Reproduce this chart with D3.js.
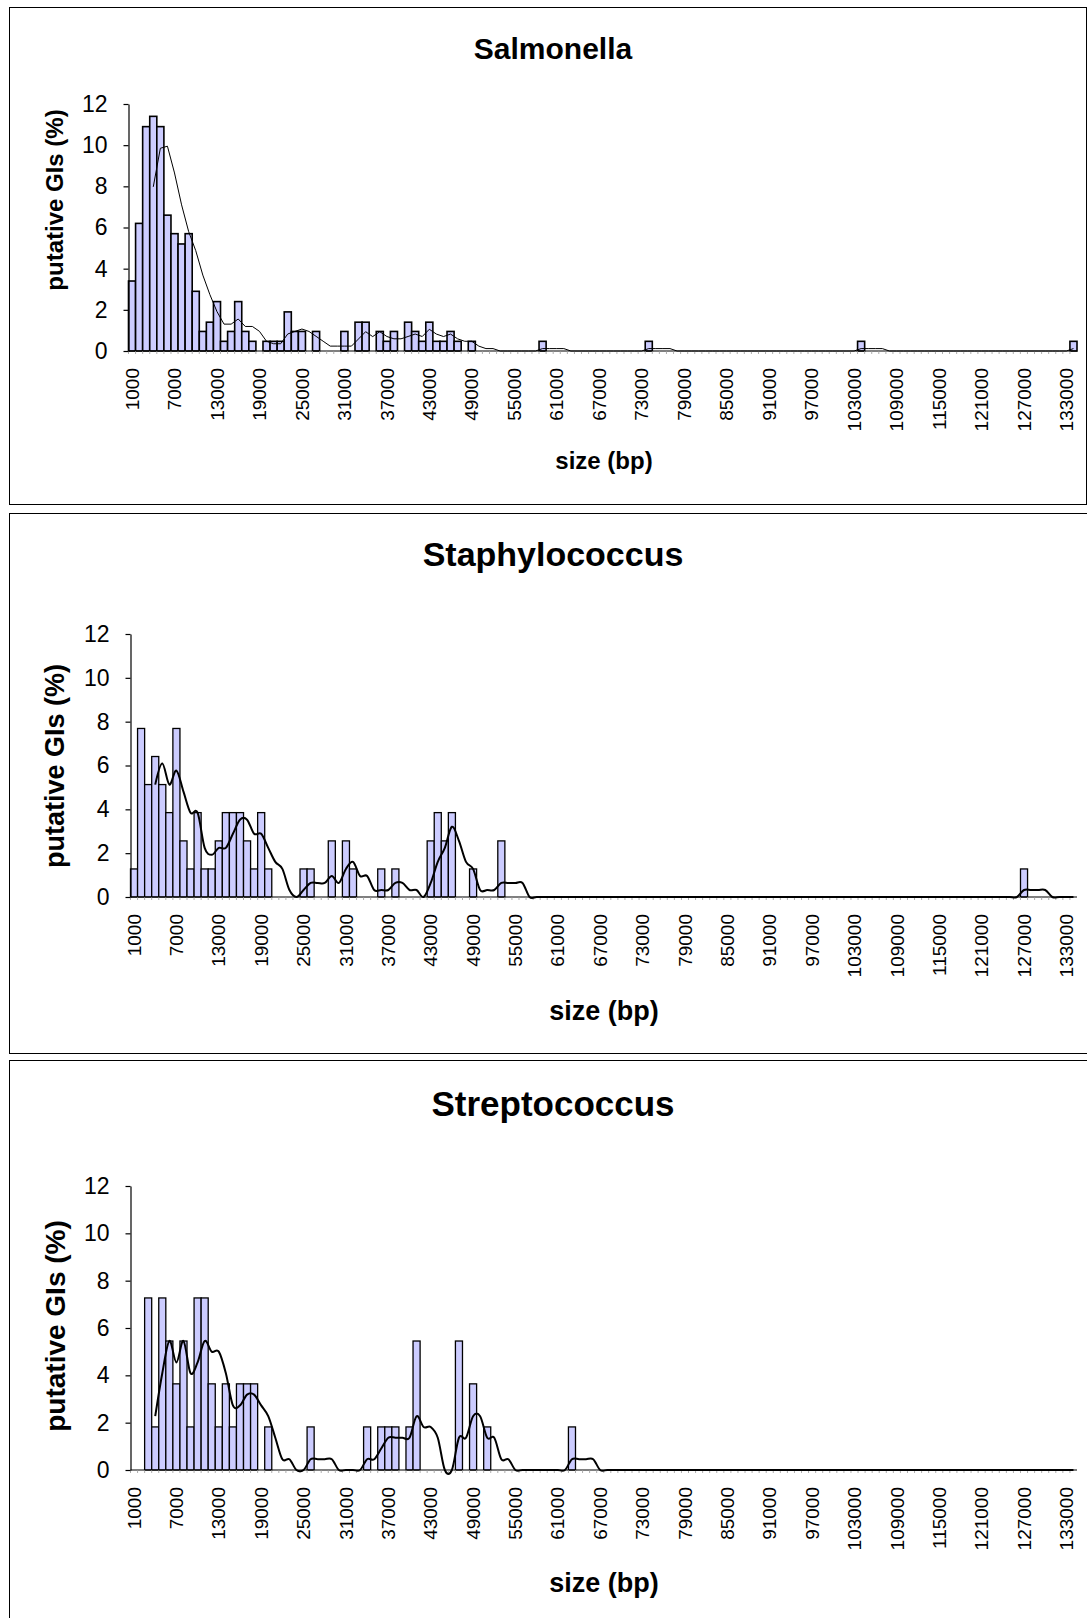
<!DOCTYPE html>
<html><head><meta charset="utf-8">
<script src="https://cdn.jsdelivr.net/npm/d3@7"></script>
<style>html,body{margin:0;padding:0;background:#fff;}</style>
</head><body>
<svg id="chart" width="1087" height="1618"></svg>
<script>
// ---- data (bin start size in bp, % of putative GIs); empty bins are 0 ----
const binSizes = d3.range(1000, 134001, 1000); // histogram categories 1000 .. 134000 bp
const tickLabels = ["1000","7000","13000","19000","25000","31000","37000","43000","49000","55000","61000","67000","73000","79000","85000","91000","97000","103000","109000","115000","121000","127000","133000"];
const yTicks = [0, 2, 4, 6, 8, 10, 12];

const salmonella = [[1000,3.4],[2000,6.2],[3000,10.9],[4000,11.4],[5000,10.9],[6000,6.6],[7000,5.7],[8000,5.2],[9000,5.7],[10000,2.9],[11000,0.95],[12000,1.4],[13000,2.4],[14000,0.47],[15000,0.95],[16000,2.4],[17000,0.95],[18000,0.47],[20000,0.47],[21000,0.47],[22000,0.47],[23000,1.9],[24000,0.95],[25000,0.95],[27000,0.95],[31000,0.95],[33000,1.4],[34000,1.4],[36000,0.95],[37000,0.47],[38000,0.95],[40000,1.4],[41000,0.95],[42000,0.47],[43000,1.4],[44000,0.47],[45000,0.47],[46000,0.95],[47000,0.47],[49000,0.47],[59000,0.47],[74000,0.47],[104000,0.47],[134000,0.47]];
const staphylococcus = [[1000,1.28],[2000,7.69],[3000,5.13],[4000,6.41],[5000,5.13],[6000,3.85],[7000,7.69],[8000,2.56],[9000,1.28],[10000,3.85],[11000,1.28],[12000,1.28],[13000,2.56],[14000,3.85],[15000,3.85],[16000,3.85],[17000,2.56],[18000,1.28],[19000,3.85],[20000,1.28],[25000,1.28],[26000,1.28],[29000,2.56],[31000,2.56],[32000,1.28],[36000,1.28],[38000,1.28],[43000,2.56],[44000,3.85],[45000,2.56],[46000,3.85],[49000,1.28],[53000,2.56],[127000,1.28]];
const streptococcus = [[3000,7.27],[4000,1.82],[5000,7.27],[6000,5.45],[7000,3.64],[8000,5.45],[9000,1.82],[10000,7.27],[11000,7.27],[12000,3.64],[13000,1.82],[14000,3.64],[15000,1.82],[16000,3.64],[17000,3.64],[18000,3.64],[20000,1.82],[26000,1.82],[34000,1.82],[36000,1.82],[37000,1.82],[38000,1.82],[40000,1.82],[41000,5.45],[47000,5.45],[49000,3.64],[51000,1.82],[63000,1.82]];
const titles = ["Salmonella", "Staphylococcus", "Streptococcus"];
const movingAveragePeriod = 4; // Excel moving-average trendline

// ---- layout ----
const panels = [
  {title: titles[0], data: salmonella, box: {x: 9.5, y: 7.5, w: 1077, h: 497}, left: 128.5, right: 1077, top: 104, bottom: 351,
   titleY: 59, titleFs: 30, xTitleY: 469, axFs: 24, yTitleY: 200, ytFs: 24, smooth: false, lw: 1, bw: 1.6},
  {title: titles[1], data: staphylococcus, box: {x: 9.5, y: 513.5, w: 1090, h: 540}, left: 130.5, right: 1077, top: 634, bottom: 897,
   titleY: 566, titleFs: 34, xTitleY: 1020, axFs: 27, yTitleY: 766, ytFs: 27, smooth: true, lw: 2, bw: 1.3},
  {title: titles[2], data: streptococcus, box: {x: 9.5, y: 1060.5, w: 1090, h: 570}, left: 130.5, right: 1077, top: 1186, bottom: 1470,
   titleY: 1116, titleFs: 35, xTitleY: 1592, axFs: 27, yTitleY: 1326, ytFs: 28, smooth: true, lw: 2, bw: 1.3}
];

const svg = d3.select("#chart");
const FONT = "'Liberation Sans', Arial, sans-serif";

panels.forEach(p => {
  const g = svg.append("g");
  g.append("rect").attr("x", p.box.x).attr("y", p.box.y).attr("width", p.box.w).attr("height", p.box.h)
    .attr("fill", "#fff").attr("stroke", "#000").attr("stroke-width", 1);

  const lookup = new Map(p.data);
  const values = binSizes.map(s => ({size: s, v: lookup.get(s) || 0}));

  const x = d3.scaleBand().domain(binSizes).range([p.left, p.right]).paddingInner(0).paddingOuter(0);
  const y = d3.scaleLinear().domain([0, 12]).range([p.bottom, p.top]);

  // bars
  g.append("g").selectAll("rect").data(values.filter(d => d.v > 0)).join("rect")
    .attr("x", d => x(d.size)).attr("width", x.bandwidth())
    .attr("y", d => y(d.v)).attr("height", d => y(0) - y(d.v))
    .attr("fill", "#ccccff").attr("stroke", "#000").attr("stroke-width", p.bw);

  // x axis with small ticks at every category, labels every 6th
  const xAxis = g.append("g").attr("transform", `translate(0,${p.bottom})`);
  xAxis.append("line").attr("x1", p.left).attr("x2", p.right).attr("y1", 0).attr("y2", 0)
    .attr("stroke", "#000").attr("stroke-width", 1.2);
  xAxis.selectAll("line.tk").data(binSizes).join("line").attr("class", "tk")
    .attr("x1", d => x(d)).attr("x2", d => x(d)).attr("y1", 0).attr("y2", 3)
    .attr("stroke", "#999").attr("stroke-width", 0.8);
  xAxis.selectAll("text").data(tickLabels).join("text")
    .attr("transform", d => `translate(${x(+d) + x.bandwidth() / 2},17) rotate(-90)`)
    .attr("text-anchor", "end").attr("dy", "0.35em")
    .attr("font-family", FONT).attr("font-size", 19).attr("fill", "#000")
    .text(d => d);

  // y axis
  const yAxis = d3.axisLeft(y).tickValues(yTicks).tickSize(5).tickPadding(16).tickSizeOuter(0);
  const ya = g.append("g").attr("transform", `translate(${p.left},0)`).call(yAxis);
  ya.select(".domain").attr("stroke", "#000").attr("stroke-width", 1.2);
  ya.selectAll(".tick line").attr("stroke", "#000").attr("stroke-width", 1.2);
  ya.selectAll(".tick text").attr("font-family", FONT).attr("font-size", 23).attr("fill", "#000");

  // moving average trendline
  const ma = values.map((d, i) => i < movingAveragePeriod - 1 ? null :
    {size: d.size, v: d3.mean(values.slice(i - movingAveragePeriod + 1, i + 1), e => e.v)}).filter(Boolean);
  const line = d3.line().x(d => x(d.size) + x.bandwidth() / 2).y(d => y(d.v))
    .curve(p.smooth ? d3.curveCardinal.tension(0) : d3.curveLinear);
  g.append("path").datum(ma).attr("d", line).attr("fill", "none")
    .attr("stroke", "#000").attr("stroke-width", p.lw).attr("stroke-linejoin", "round");

  // titles
  g.append("text").attr("x", 553).attr("y", p.titleY).attr("text-anchor", "middle")
    .attr("font-family", FONT).attr("font-weight", "bold").attr("font-size", p.titleFs).text(p.title);
  g.append("text").attr("x", 604).attr("y", p.xTitleY).attr("text-anchor", "middle")
    .attr("font-family", FONT).attr("font-weight", "bold").attr("font-size", p.axFs).text("size (bp)");
  g.append("text").attr("transform", `translate(55,${p.yTitleY}) rotate(-90)`).attr("text-anchor", "middle")
    .attr("dy", "0.35em")
    .attr("font-family", FONT).attr("font-weight", "bold").attr("font-size", p.ytFs).text("putative GIs (%)");
});
</script>
</body></html>
